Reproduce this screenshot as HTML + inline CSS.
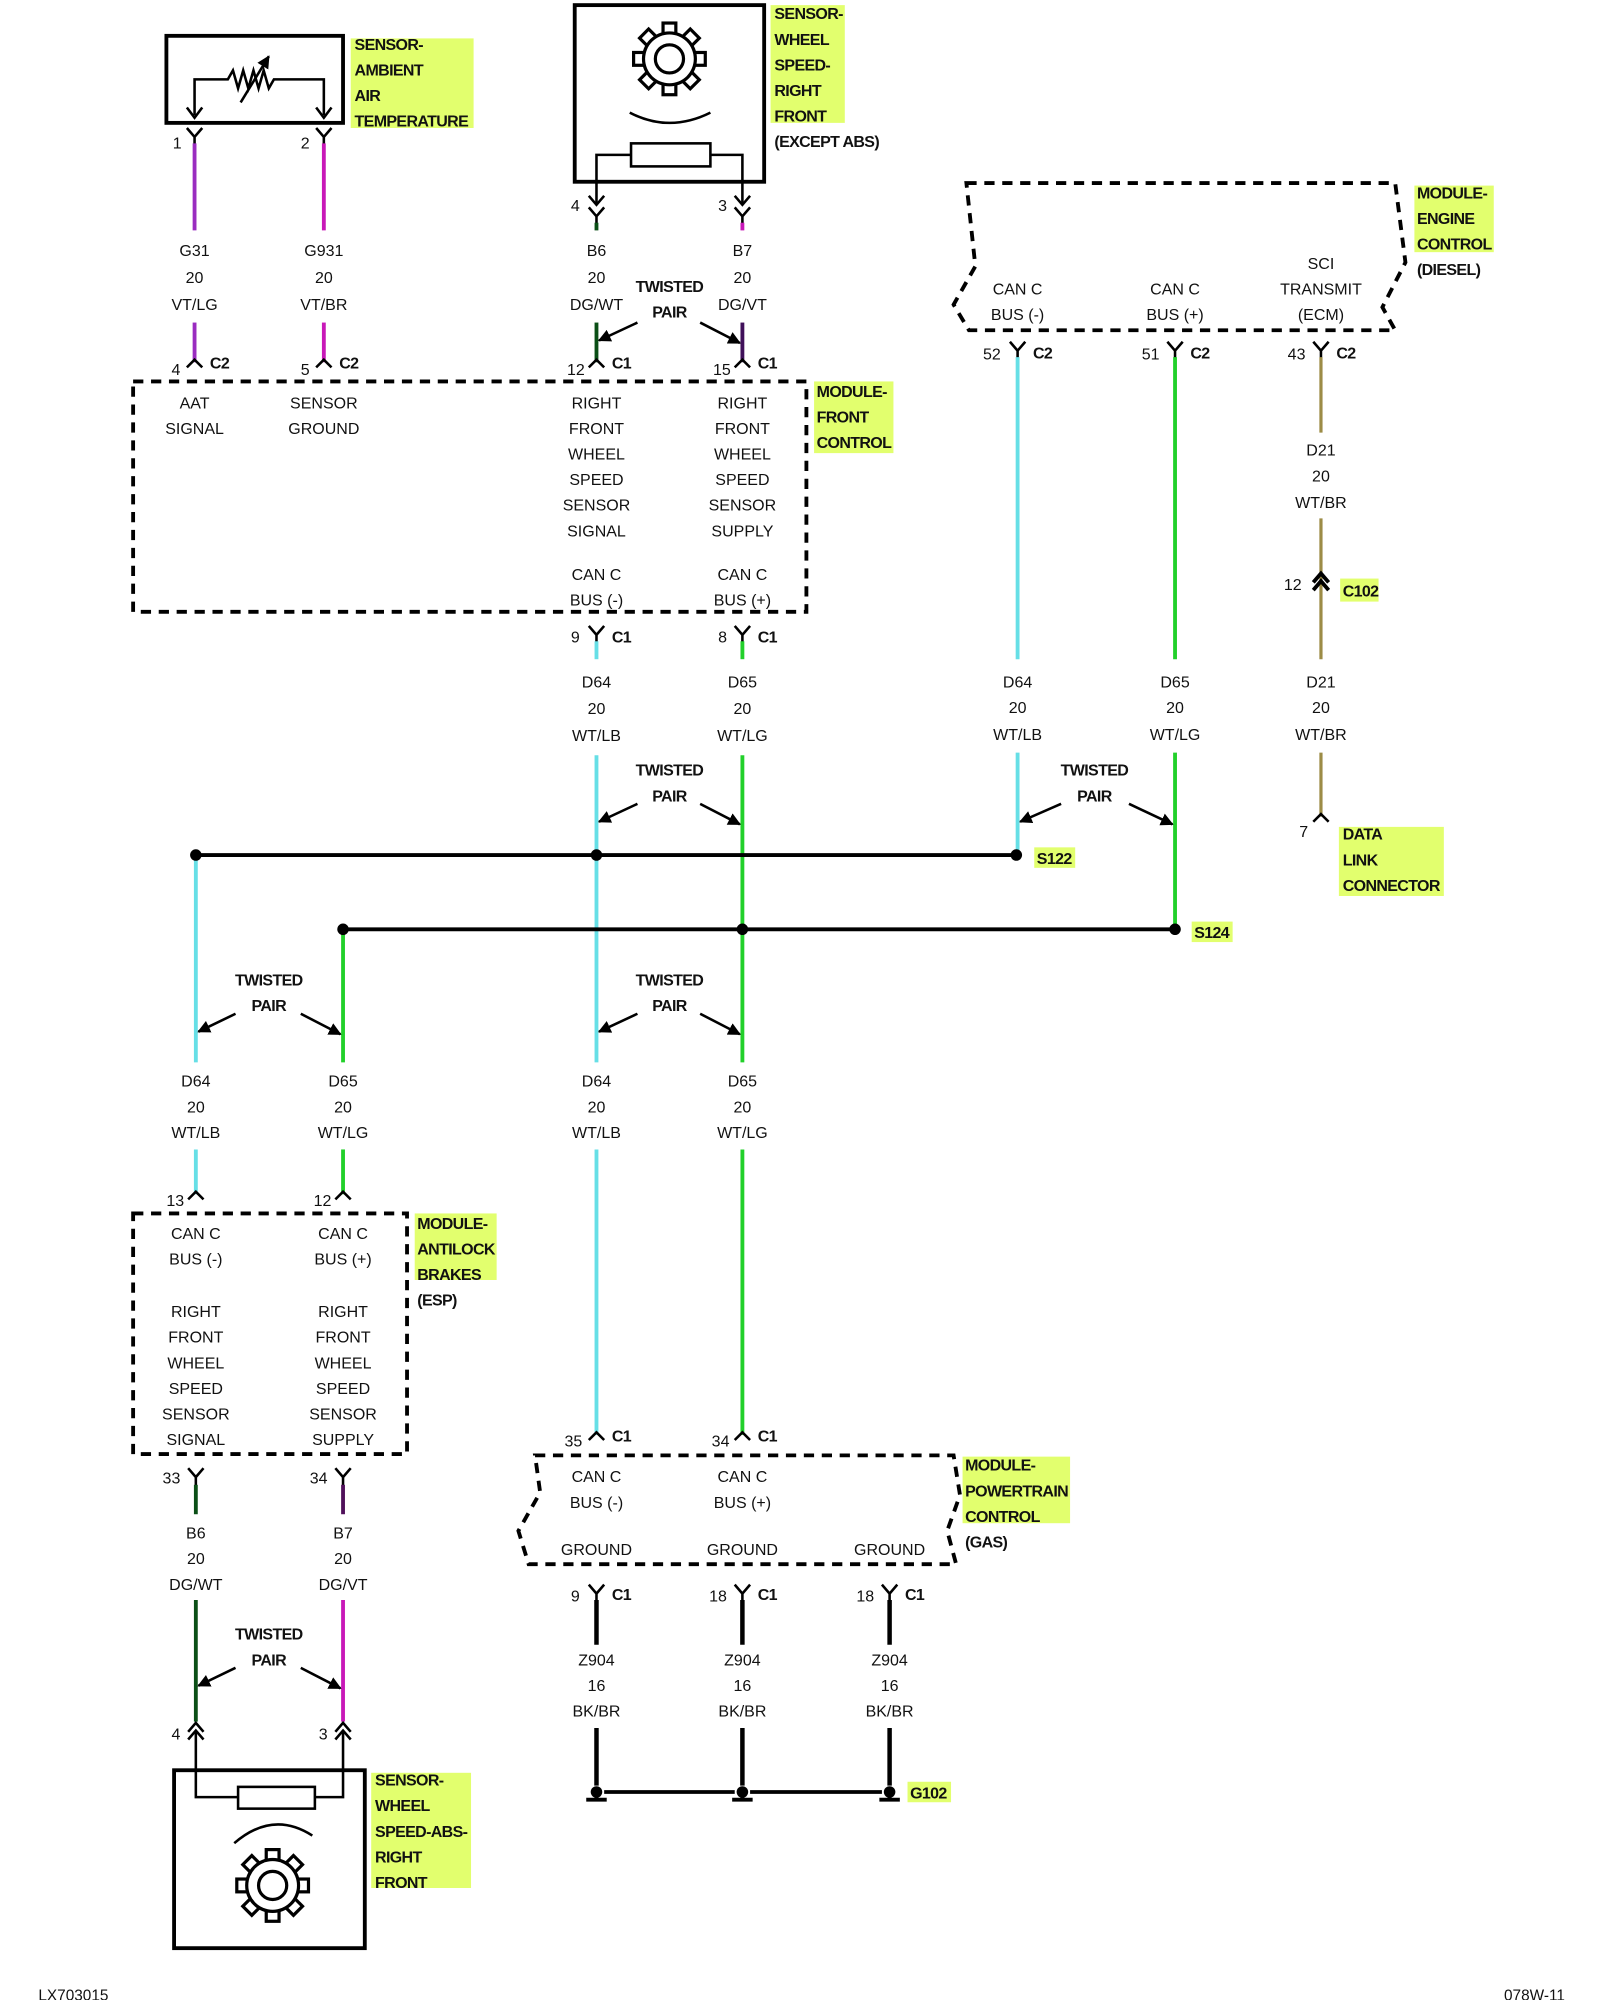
<!DOCTYPE html>
<html><head><meta charset="utf-8"><style>
html,body{margin:0;padding:0;background:#fff}
svg{display:block}
text{font-family:"Liberation Sans",sans-serif;font-size:12.5px;fill:#111}
.c{text-anchor:middle}
.b{font-weight:bold;font-size:12.5px;letter-spacing:-0.5px}
.lb{fill:#e2ff6e}
.k{stroke:#000;stroke-width:2;fill:none}
.k3{stroke:#000;stroke-width:3;fill:none}
.d{stroke:#000;stroke-width:3;fill:none;stroke-dasharray:8,6}
.cy{stroke:#66dfe6;stroke-width:3}
.gr{stroke:#22d02a;stroke-width:3}
.mg{stroke:#c818b8;stroke-width:3}
.dg{stroke:#0b4f16;stroke-width:3}
.ol{stroke:#9c8c46;stroke-width:2.5}
.bk{stroke:#000;stroke-width:3.5}
</style></head><body>
<svg width="1600" height="2000" viewBox="0 0 1250 1562.5" xmlns="http://www.w3.org/2000/svg">
<defs>
<path id="fy" d="M-6,0 L0,7 L6,0 M0,7 V14" stroke="#000" stroke-width="2" fill="none"/>
<path id="mu" d="M-6,6 L0,0 L6,6" stroke="#000" stroke-width="2" fill="none"/>
<g id="gear">
<g fill="#fff" stroke="#000" stroke-width="2.5">
<rect x="-5" y="-28" width="10" height="9"/>
<rect x="-5" y="-28" width="10" height="9" transform="rotate(45)"/>
<rect x="-5" y="-28" width="10" height="9" transform="rotate(90)"/>
<rect x="-5" y="-28" width="10" height="9" transform="rotate(135)"/>
<rect x="-5" y="-28" width="10" height="9" transform="rotate(180)"/>
<rect x="-5" y="-28" width="10" height="9" transform="rotate(225)"/>
<rect x="-5" y="-28" width="10" height="9" transform="rotate(270)"/>
<rect x="-5" y="-28" width="10" height="9" transform="rotate(315)"/>
</g>
<circle r="20" fill="#fff" stroke="#000" stroke-width="3"/>
<circle r="19" fill="#fff"/>
<circle r="11" fill="none" stroke="#000" stroke-width="2.5"/>
</g>
<marker id="ah" viewBox="0 0 10 10" refX="9" refY="5" markerWidth="5" markerHeight="5" orient="auto"><path d="M0,0 L10,5 L0,10 z" fill="#000"/></marker>
</defs>

<!-- AAT sensor -->
<rect x="130" y="28" width="138" height="68" class="k3"/>
<path d="M152,90 V62 H178 l4,-7 4,14 4,-14 4,14 4,-14 4,14 4,-14 4,14 4,-7 H253 V90" class="k"/>
<path d="M146,84 L152,92 L158,84 M247,84 L253,92 L259,84" class="k"/>
<path d="M188,80 L210,44" class="k" marker-end="url(#ah)"/>
<rect class="lb" x="274" y="30" width="96" height="70"/>
<text class="b" x="277" y="39">SENSOR-</text><text class="b" x="277" y="59">AMBIENT</text><text class="b" x="277" y="79">AIR</text><text class="b" x="277" y="99">TEMPERATURE</text>
<use href="#fy" x="152" y="100"/><use href="#fy" x="253" y="100"/>
<text x="135" y="116">1</text><text x="235" y="116">2</text>
<line x1="152" y1="112" x2="152" y2="180" class="mg" style="stroke:#9a2cc0"/>
<line x1="253" y1="112" x2="253" y2="180" class="mg"/>
<text class="c" x="152" y="200">G31</text><text class="c" x="152" y="221">20</text><text class="c" x="152" y="242">VT/LG</text>
<text class="c" x="253" y="200">G931</text><text class="c" x="253" y="221">20</text><text class="c" x="253" y="242">VT/BR</text>
<line x1="152" y1="252" x2="152" y2="283" class="mg" style="stroke:#9a2cc0"/>
<line x1="253" y1="252" x2="253" y2="283" class="mg"/>
<use href="#mu" x="152" y="281"/><use href="#mu" x="253" y="281"/>
<text x="134" y="293">4</text><text class="b" x="164" y="288">C2</text>
<text x="235" y="293">5</text><text class="b" x="265" y="288">C2</text>

<!-- Wheel sensor top -->
<rect x="449" y="4" width="148" height="138" class="k3"/>
<use href="#gear" x="523" y="46"/>
<path d="M492,88 Q523,104 555,88" class="k"/>
<rect x="493" y="112" width="62" height="18" class="k"/>
<path d="M493,121 H466 V160 M555,121 H580 V160" class="k"/>
<path d="M460,153 L466,160 L472,153 M574,153 L580,160 L586,153" class="k"/>
<rect class="lb" x="602" y="4" width="58" height="92"/>
<text class="b" x="605" y="15">SENSOR-</text><text class="b" x="605" y="35">WHEEL</text><text class="b" x="605" y="55">SPEED-</text><text class="b" x="605" y="75">RIGHT</text><text class="b" x="605" y="95">FRONT</text><text class="b" x="605" y="115">(EXCEPT ABS)</text>
<use href="#fy" x="466" y="162"/><use href="#fy" x="580" y="162"/>
<text x="446" y="165">4</text><text x="561" y="165">3</text>
<line x1="466" y1="174" x2="466" y2="180" class="dg"/><line x1="580" y1="174" x2="580" y2="180" class="mg"/>
<text class="c" x="466" y="200">B6</text><text class="c" x="466" y="221">20</text><text class="c" x="466" y="242">DG/WT</text>
<text class="c" x="580" y="200">B7</text><text class="c" x="580" y="221">20</text><text class="c" x="580" y="242">DG/VT</text>
<text class="b c" x="523" y="228">TWISTED</text><text class="b c" x="523" y="248">PAIR</text>
<line x1="466" y1="252" x2="466" y2="283" class="dg"/><line x1="580" y1="252" x2="580" y2="283" class="mg" style="stroke:#40105a"/>
<line x1="498" y1="252" x2="468" y2="266" class="k" marker-end="url(#ah)"/>
<line x1="547" y1="252" x2="578" y2="268" class="k" marker-end="url(#ah)"/>
<use href="#mu" x="466" y="281"/><use href="#mu" x="580" y="281"/>
<text x="443" y="293">12</text><text class="b" x="478" y="288">C1</text>
<text x="557" y="293">15</text><text class="b" x="592" y="288">C1</text>

<!-- Front control module -->
<rect x="104" y="298" width="526" height="180" class="d"/>
<rect class="lb" x="636" y="298" width="62" height="56"/>
<text class="b" x="638" y="310">MODULE-</text><text class="b" x="638" y="330">FRONT</text><text class="b" x="638" y="350">CONTROL</text>
<text class="c" x="152" y="319">AAT</text><text class="c" x="152" y="339">SIGNAL</text>
<text class="c" x="253" y="319">SENSOR</text><text class="c" x="253" y="339">GROUND</text>
<text class="c" x="466" y="319">RIGHT</text><text class="c" x="466" y="339">FRONT</text><text class="c" x="466" y="359">WHEEL</text><text class="c" x="466" y="379">SPEED</text><text class="c" x="466" y="399">SENSOR</text><text class="c" x="466" y="419">SIGNAL</text>
<text class="c" x="580" y="319">RIGHT</text><text class="c" x="580" y="339">FRONT</text><text class="c" x="580" y="359">WHEEL</text><text class="c" x="580" y="379">SPEED</text><text class="c" x="580" y="399">SENSOR</text><text class="c" x="580" y="419">SUPPLY</text>
<text class="c" x="466" y="453">CAN C</text><text class="c" x="466" y="473">BUS (-)</text>
<text class="c" x="580" y="453">CAN C</text><text class="c" x="580" y="473">BUS (+)</text>
<use href="#fy" x="466" y="489"/><use href="#fy" x="580" y="489"/>
<text x="446" y="502">9</text><text class="b" x="478" y="502">C1</text>
<text x="561" y="502">8</text><text class="b" x="592" y="502">C1</text>
<line x1="466" y1="501" x2="466" y2="515" class="cy"/><line x1="580" y1="501" x2="580" y2="515" class="gr"/>
<text class="c" x="466" y="537">D64</text><text class="c" x="466" y="558">20</text><text class="c" x="466" y="579">WT/LB</text>
<text class="c" x="580" y="537">D65</text><text class="c" x="580" y="558">20</text><text class="c" x="580" y="579">WT/LG</text>
<line x1="466" y1="590" x2="466" y2="830" class="cy"/><line x1="580" y1="590" x2="580" y2="830" class="gr"/>
<text class="b c" x="523" y="606">TWISTED</text><text class="b c" x="523" y="626">PAIR</text>
<line x1="498" y1="628" x2="468" y2="642" class="k" marker-end="url(#ah)"/>
<line x1="547" y1="628" x2="578" y2="644" class="k" marker-end="url(#ah)"/>

<!-- ECM -->
<path d="M755,143 H1090 L1098,205 L1080,240 L1090,258 H757 L745,238 L762,208 Z" class="d"/>
<rect class="lb" x="1105" y="145" width="62" height="52"/>
<text class="b" x="1107" y="155">MODULE-</text><text class="b" x="1107" y="175">ENGINE</text><text class="b" x="1107" y="195">CONTROL</text><text class="b" x="1107" y="215">(DIESEL)</text>
<text class="c" x="795" y="230">CAN C</text><text class="c" x="795" y="250">BUS (-)</text>
<text class="c" x="918" y="230">CAN C</text><text class="c" x="918" y="250">BUS (+)</text>
<text class="c" x="1032" y="210">SCI</text><text class="c" x="1032" y="230">TRANSMIT</text><text class="c" x="1032" y="250">(ECM)</text>
<use href="#fy" x="795" y="267"/><use href="#fy" x="918" y="267"/><use href="#fy" x="1032" y="267"/>
<text x="768" y="281">52</text><text class="b" x="807" y="280">C2</text>
<text x="892" y="281">51</text><text class="b" x="930" y="280">C2</text>
<text x="1006" y="281">43</text><text class="b" x="1044" y="280">C2</text>
<line x1="795" y1="279" x2="795" y2="515" class="cy"/><line x1="918" y1="279" x2="918" y2="515" class="gr"/>
<line x1="1032" y1="279" x2="1032" y2="338" class="ol"/>
<text class="c" x="1032" y="356">D21</text><text class="c" x="1032" y="376">20</text><text class="c" x="1032" y="397">WT/BR</text>
<line x1="1032" y1="405" x2="1032" y2="515" class="ol"/>
<path d="M1026,455 L1032,448 L1038,455 M1026,461 L1032,454 L1038,461" stroke="#000" stroke-width="3" fill="none"/>
<text x="1003" y="461">12</text>
<rect class="lb" x="1047" y="452" width="30" height="18"/><text class="b" x="1049" y="466">C102</text>
<text class="c" x="795" y="537">D64</text><text class="c" x="795" y="557">20</text><text class="c" x="795" y="578">WT/LB</text>
<text class="c" x="918" y="537">D65</text><text class="c" x="918" y="557">20</text><text class="c" x="918" y="578">WT/LG</text>
<text class="c" x="1032" y="537">D21</text><text class="c" x="1032" y="557">20</text><text class="c" x="1032" y="578">WT/BR</text>
<line x1="795" y1="588" x2="795" y2="668" class="cy"/><line x1="918" y1="588" x2="918" y2="726" class="gr"/>
<line x1="1032" y1="588" x2="1032" y2="638" class="ol"/>
<use href="#mu" x="1032" y="636"/><text x="1015" y="654">7</text>
<rect class="lb" x="1046" y="646" width="82" height="54"/>
<text class="b" x="1049" y="656">DATA</text><text class="b" x="1049" y="676">LINK</text><text class="b" x="1049" y="696">CONNECTOR</text>
<text class="b c" x="855" y="606">TWISTED</text><text class="b c" x="855" y="626">PAIR</text>
<line x1="829" y1="628" x2="797" y2="642" class="k" marker-end="url(#ah)"/>
<line x1="882" y1="628" x2="916" y2="644" class="k" marker-end="url(#ah)"/>

<!-- left bus -->
<line x1="153" y1="668" x2="153" y2="830" class="cy"/><line x1="268" y1="726" x2="268" y2="830" class="gr"/>

<!-- splices -->
<line x1="153" y1="668" x2="794" y2="668" stroke="#000" stroke-width="3"/>
<line x1="268" y1="726" x2="918" y2="726" stroke="#000" stroke-width="3"/>
<g fill="#000"><circle cx="153" cy="668" r="4.5"/><circle cx="466" cy="668" r="4.5"/><circle cx="794" cy="668" r="4.5"/>
<circle cx="268" cy="726" r="4.5"/><circle cx="580" cy="726" r="4.5"/><circle cx="918" cy="726" r="4.5"/></g>
<rect class="lb" x="808" y="662" width="32" height="16"/><text class="b" x="810" y="675">S122</text>
<rect class="lb" x="931" y="720" width="32" height="16"/><text class="b" x="933" y="733">S124</text>

<text class="b c" x="210" y="770">TWISTED</text><text class="b c" x="210" y="790">PAIR</text>
<line x1="184" y1="792" x2="155" y2="806" class="k" marker-end="url(#ah)"/>
<line x1="235" y1="792" x2="266" y2="808" class="k" marker-end="url(#ah)"/>
<text class="b c" x="523" y="770">TWISTED</text><text class="b c" x="523" y="790">PAIR</text>
<line x1="498" y1="792" x2="468" y2="806" class="k" marker-end="url(#ah)"/>
<line x1="547" y1="792" x2="578" y2="808" class="k" marker-end="url(#ah)"/>
<text class="c" x="153" y="849">D64</text><text class="c" x="153" y="869">20</text><text class="c" x="153" y="889">WT/LB</text>
<text class="c" x="268" y="849">D65</text><text class="c" x="268" y="869">20</text><text class="c" x="268" y="889">WT/LG</text>
<text class="c" x="466" y="849">D64</text><text class="c" x="466" y="869">20</text><text class="c" x="466" y="889">WT/LB</text>
<text class="c" x="580" y="849">D65</text><text class="c" x="580" y="869">20</text><text class="c" x="580" y="889">WT/LG</text>
<line x1="153" y1="898" x2="153" y2="933" class="cy"/><line x1="268" y1="898" x2="268" y2="933" class="gr"/>
<use href="#mu" x="153" y="931"/><use href="#mu" x="268" y="931"/>
<text x="130" y="942">13</text><text x="245" y="942">12</text>
<line x1="466" y1="898" x2="466" y2="1121" class="cy"/><line x1="580" y1="898" x2="580" y2="1121" class="gr"/>
<use href="#mu" x="466" y="1119"/><use href="#mu" x="580" y="1119"/>
<text x="441" y="1130">35</text><text class="b" x="478" y="1126">C1</text>
<text x="556" y="1130">34</text><text class="b" x="592" y="1126">C1</text>

<!-- ABS module -->
<rect x="104" y="948" width="214" height="188" class="d"/>
<rect class="lb" x="324" y="948" width="64" height="52"/>
<text class="b" x="326" y="960">MODULE-</text><text class="b" x="326" y="980">ANTILOCK</text><text class="b" x="326" y="1000">BRAKES</text><text class="b" x="326" y="1020">(ESP)</text>
<text class="c" x="153" y="968">CAN C</text><text class="c" x="153" y="988">BUS (-)</text>
<text class="c" x="268" y="968">CAN C</text><text class="c" x="268" y="988">BUS (+)</text>
<text class="c" x="153" y="1029">RIGHT</text><text class="c" x="153" y="1049">FRONT</text><text class="c" x="153" y="1069">WHEEL</text><text class="c" x="153" y="1089">SPEED</text><text class="c" x="153" y="1109">SENSOR</text><text class="c" x="153" y="1129">SIGNAL</text>
<text class="c" x="268" y="1029">RIGHT</text><text class="c" x="268" y="1049">FRONT</text><text class="c" x="268" y="1069">WHEEL</text><text class="c" x="268" y="1089">SPEED</text><text class="c" x="268" y="1109">SENSOR</text><text class="c" x="268" y="1129">SUPPLY</text>
<use href="#fy" x="153" y="1147"/><use href="#fy" x="268" y="1147"/>
<text x="127" y="1159">33</text><text x="242" y="1159">34</text>
<line x1="153" y1="1160" x2="153" y2="1183" class="dg"/><line x1="268" y1="1160" x2="268" y2="1183" class="mg" style="stroke:#50105a"/>
<text class="c" x="153" y="1202">B6</text><text class="c" x="153" y="1222">20</text><text class="c" x="153" y="1242">DG/WT</text>
<text class="c" x="268" y="1202">B7</text><text class="c" x="268" y="1222">20</text><text class="c" x="268" y="1242">DG/VT</text>
<line x1="153" y1="1250" x2="153" y2="1345" class="dg"/><line x1="268" y1="1250" x2="268" y2="1345" class="mg"/>
<text class="b c" x="210" y="1281">TWISTED</text><text class="b c" x="210" y="1301">PAIR</text>
<line x1="184" y1="1303" x2="155" y2="1317" class="k" marker-end="url(#ah)"/>
<line x1="235" y1="1303" x2="266" y2="1319" class="k" marker-end="url(#ah)"/>
<path d="M147,1353 L153,1346 L159,1353 M147,1359 L153,1352 L159,1359 M262,1353 L268,1346 L274,1353 M262,1359 L268,1352 L274,1359" class="k"/>
<text x="134" y="1359">4</text><text x="249" y="1359">3</text>
<path d="M153,1352 V1404 H186 M246,1404 H268 V1352" class="k"/>
<rect x="136" y="1383" width="149" height="139" class="k3"/>
<rect x="186" y="1396" width="60" height="17" class="k"/>
<path d="M183,1440 Q213,1414 244,1434" class="k"/>
<use href="#gear" x="213" y="1473"/>
<rect class="lb" x="290" y="1385" width="78" height="90"/>
<text class="b" x="293" y="1395">SENSOR-</text><text class="b" x="293" y="1415">WHEEL</text><text class="b" x="293" y="1435">SPEED-ABS-</text><text class="b" x="293" y="1455">RIGHT</text><text class="b" x="293" y="1475">FRONT</text>

<!-- PCM -->
<path d="M418,1137 H745 L750,1168 L740,1196 L747,1222 H413 L405,1196 L422,1166 Z" class="d"/>
<rect class="lb" x="752" y="1138" width="84" height="52"/>
<text class="b" x="754" y="1149">MODULE-</text><text class="b" x="754" y="1169">POWERTRAIN</text><text class="b" x="754" y="1189">CONTROL</text><text class="b" x="754" y="1209">(GAS)</text>
<text class="c" x="466" y="1158">CAN C</text><text class="c" x="466" y="1178">BUS (-)</text>
<text class="c" x="580" y="1158">CAN C</text><text class="c" x="580" y="1178">BUS (+)</text>
<text class="c" x="466" y="1215">GROUND</text><text class="c" x="580" y="1215">GROUND</text><text class="c" x="695" y="1215">GROUND</text>
<use href="#fy" x="466" y="1238"/><use href="#fy" x="580" y="1238"/><use href="#fy" x="695" y="1238"/>
<text x="446" y="1251">9</text><text class="b" x="478" y="1250">C1</text>
<text x="554" y="1251">18</text><text class="b" x="592" y="1250">C1</text>
<text x="669" y="1251">18</text><text class="b" x="707" y="1250">C1</text>
<line x1="466" y1="1250" x2="466" y2="1285" class="bk"/><line x1="580" y1="1250" x2="580" y2="1285" class="bk"/><line x1="695" y1="1250" x2="695" y2="1285" class="bk"/>
<text class="c" x="466" y="1301">Z904</text><text class="c" x="466" y="1321">16</text><text class="c" x="466" y="1341">BK/BR</text>
<text class="c" x="580" y="1301">Z904</text><text class="c" x="580" y="1321">16</text><text class="c" x="580" y="1341">BK/BR</text>
<text class="c" x="695" y="1301">Z904</text><text class="c" x="695" y="1321">16</text><text class="c" x="695" y="1341">BK/BR</text>
<line x1="466" y1="1350" x2="466" y2="1395" class="bk"/><line x1="580" y1="1350" x2="580" y2="1395" class="bk"/><line x1="695" y1="1350" x2="695" y2="1395" class="bk"/>
<line x1="472" y1="1400" x2="574" y2="1400" stroke="#000" stroke-width="3"/>
<line x1="586" y1="1400" x2="689" y2="1400" stroke="#000" stroke-width="3"/>
<g fill="#000"><circle cx="466" cy="1400" r="4.5"/><circle cx="580" cy="1400" r="4.5"/><circle cx="695" cy="1400" r="4.5"/></g>
<path d="M466,1400 V1406 M458,1406 H474 M580,1400 V1406 M572,1406 H588 M695,1400 V1406 M687,1406 H703" stroke="#000" stroke-width="3"/>
<rect class="lb" x="709" y="1392" width="34" height="16"/><text class="b" x="711" y="1405">G102</text>

<text x="30" y="1563" style="font-size:12px">LX703015</text>
<text x="1175" y="1563" style="font-size:12px">078W-11</text>
</svg>
</body></html>
